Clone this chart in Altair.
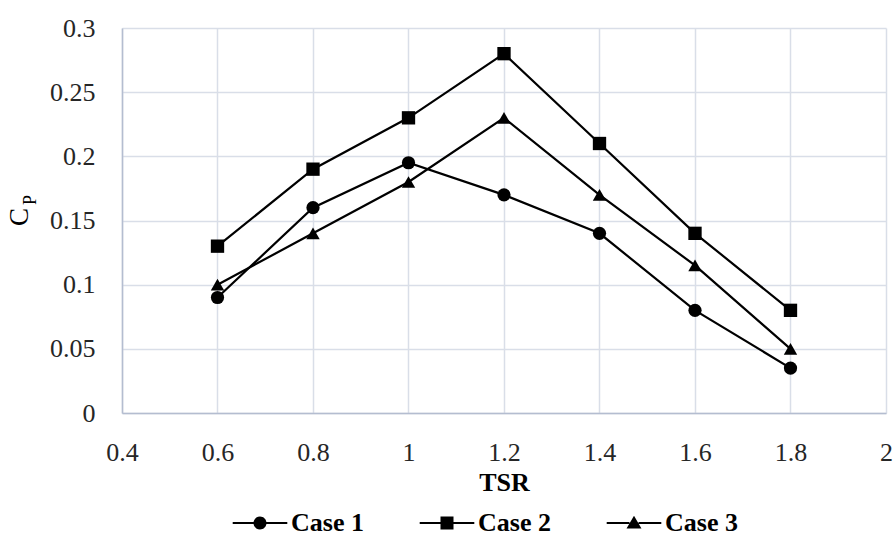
import altair as alt
import pandas as pd

# ---- data ----
tsr = [0.6, 0.8, 1.0, 1.2, 1.4, 1.6, 1.8]
case1 = [0.09, 0.16, 0.195, 0.17, 0.14, 0.08, 0.035]
case2 = [0.13, 0.19, 0.23, 0.28, 0.21, 0.14, 0.08]
case3 = [0.10, 0.14, 0.18, 0.23, 0.17, 0.115, 0.05]
series = ["Case 1", "Case 2", "Case 3"]
x_ticks = [0.4, 0.6, 0.8, 1.0, 1.2, 1.4, 1.6, 1.8, 2.0]
y_ticks = [0, 0.05, 0.1, 0.15, 0.2, 0.25, 0.3]

rows = []
for name, vals in zip(series, [case1, case2, case3]):
    for t, v in zip(tsr, vals):
        rows.append({"TSR": t, "Cp": v, "Case": name, "Legend": name})
df = pd.DataFrame(rows)

FONT = "Liberation Serif"
GRID = "#D9DEE8"
DOMAIN = "#B4BDD0"

x_enc = alt.X(
    "TSR:Q",
    scale=alt.Scale(domain=[0.4, 2.0], nice=False, zero=False),
    axis=alt.Axis(
        values=x_ticks, format="~g", title="TSR", titleFont=FONT, titleFontSize=26,
        titleFontWeight="bold", titleColor="black", titlePadding=4,
        labelFont=FONT, labelFontSize=26, labelColor="#262626", labelPadding=26,
        ticks=False, tickSize=0, domainColor=DOMAIN, domainWidth=1.5,
        gridColor=GRID, gridWidth=1.5, labelFlush=False,
    ),
)
y_enc = alt.Y(
    "Cp:Q",
    scale=alt.Scale(domain=[0, 0.3], nice=False),
    axis=alt.Axis(
        values=y_ticks, format="~g", title="",
        labelFont=FONT, labelFontSize=26, labelColor="#262626", labelPadding=27,
        ticks=False, tickSize=0, domainColor=DOMAIN, domainWidth=1.5,
        gridColor=GRID, gridWidth=1.5, labelFlush=False,
    ),
)

lines = alt.Chart(df).mark_line(color="black", strokeWidth=2.2).encode(
    x=x_enc, y=y_enc, detail="Case:N"
)

points = alt.Chart(df).mark_point(filled=True, color="black", opacity=1).encode(
    x=x_enc,
    y=y_enc,
    shape=alt.Shape("Case:N", scale=alt.Scale(domain=series, range=["circle", "square", "triangle-up"]), legend=None),
    size=alt.Size("Case:N", scale=alt.Scale(domain=series, range=[175, 180, 230]), legend=None),
)

# legend glyphs: a short line (two thin filled bars) through the marker
BARS = "M-4.2,-0.16H-0.7V0.16H-4.2ZM0.7,-0.16H4.2V0.16H0.7Z"
legend_paths = [
    BARS + "M1,0A1,1,0,1,1,-1,0A1,1,0,1,1,1,0Z",
    BARS + "M-1,-1H1V1H-1Z",
    BARS + "M0,-1.1L1.15,0.85H-1.15Z",
]

legend_layer = alt.Chart(df).mark_point(
    filled=True, color="black", opacity=0
).encode(
    x=x_enc,
    y=y_enc,
    shape=alt.Shape(
        "Legend:N",
        scale=alt.Scale(domain=series, range=legend_paths),
        legend=alt.Legend(
            title="", orient="none", legendX=125, legendY=482, direction="horizontal",
            labelFont=FONT, labelFontSize=26, labelFontWeight="bold", labelColor="black",
            symbolSize=169, symbolFillColor="black", symbolOpacity=1, labelOffset=18,
            columnPadding=52, padding=0, labelBaseline="middle",
        ),
    ),
)

title_df = pd.DataFrame({"k": [0]})
c_main = alt.Chart(title_df).mark_text(
    font=FONT, fontSize=27, angle=270, align="center", baseline="middle", color="black"
).encode(text=alt.value("C"), x=alt.value(-102), y=alt.value(189))
c_sub = alt.Chart(title_df).mark_text(
    font=FONT, fontSize=18, angle=270, align="center", baseline="middle", color="black"
).encode(text=alt.value("P"), x=alt.value(-91), y=alt.value(172))

chart = (
    alt.layer(lines, points, legend_layer, c_main, c_sub)
    .resolve_scale(shape="independent", size="independent")
    .properties(
        width=764, height=385,
        autosize=alt.AutoSizeParams(type="none"),
        padding={"left": 122, "top": 28, "right": 10, "bottom": 125},
        background="white",
    )
    .configure_view(strokeWidth=0)
)

chart.save("out.html", embed_options={"renderer": "svg", "actions": False})
